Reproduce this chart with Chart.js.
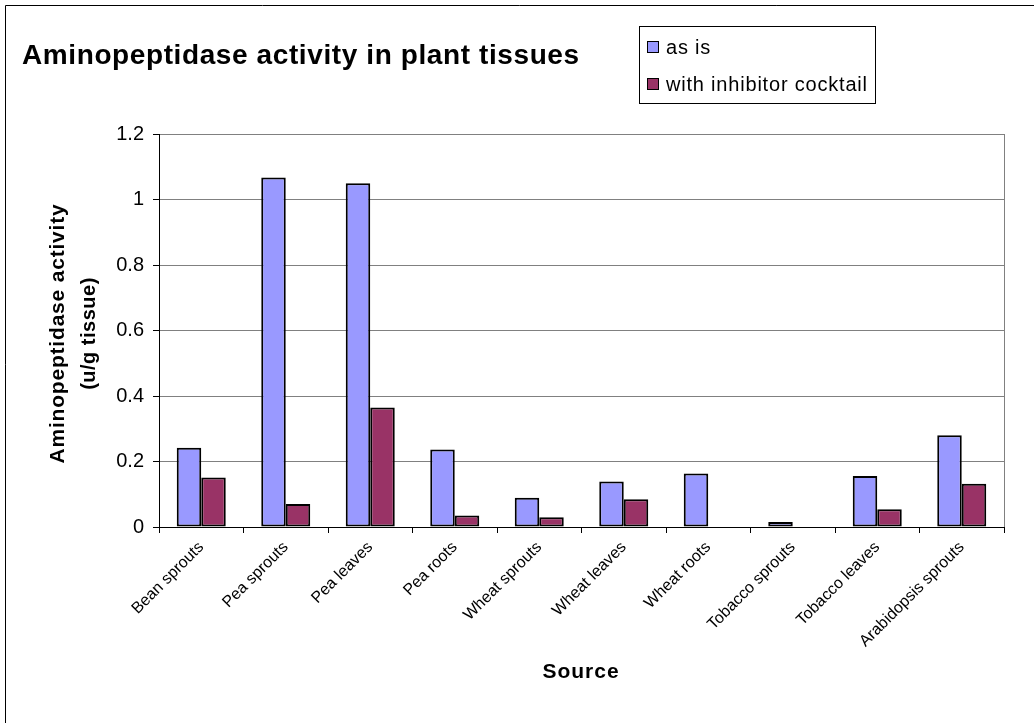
<!DOCTYPE html>
<html>
<head>
<meta charset="utf-8">
<title>Aminopeptidase activity in plant tissues</title>
<script src="https://cdn.jsdelivr.net/npm/chart.js@4"></script>
<style>
    html, body { margin: 0; padding: 0; background: #ffffff; }
    canvas { display: block; }
</style>
</head>
<body>
<canvas id="apChart" width="1034" height="723"></canvas>
<script>
// Dữ liệu biểu đồ
const sources = ['Bean sprouts', 'Pea sprouts', 'Pea leaves', 'Pea roots', 'Wheat sprouts',
    'Wheat leaves', 'Wheat roots', 'Tobacco sprouts', 'Tobacco leaves', 'Arabidopsis sprouts'];
const asIs = [0.242, 1.067, 1.050, 0.237, 0.089, 0.139, 0.163, 0.015, 0.156, 0.280];
const withInhibitor = [0.151, 0.070, 0.365, 0.035, 0.030, 0.085, 0, 0, 0.054, 0.132];
const yTicks = [0, 0.2, 0.4, 0.6, 0.8, 1, 1.2];

const FONT = '"Liberation Sans", Arial, sans-serif';

// Vẽ tiêu đề, chú thích, tiêu đề trục và khung
const chartDecor = {
    id: 'chartDecor',
    afterDraw(chart) {
        const ctx = chart.ctx;
        const area = chart.chartArea;
        ctx.save();

        // khung ngoài (chỉ thấy cạnh trên và trái)
        ctx.strokeStyle = '#000000';
        ctx.lineWidth = 1;
        ctx.beginPath();
        ctx.moveTo(5.5, chart.height);
        ctx.lineTo(5.5, 5.5);
        ctx.lineTo(chart.width, 5.5);
        ctx.stroke();

        // cạnh phải vùng vẽ
        const rx = Math.round(area.right) + 0.5;
        ctx.strokeStyle = '#808080';
        ctx.beginPath();
        ctx.moveTo(rx, area.top);
        ctx.lineTo(rx, area.bottom);
        ctx.stroke();

        // tiêu đề
        ctx.fillStyle = '#000000';
        ctx.textAlign = 'left';
        ctx.textBaseline = 'middle';
        ctx.font = 'bold 28px ' + FONT;
        ctx.letterSpacing = '0.6px';
        ctx.fillText('Aminopeptidase activity in plant tissues', 22, 56);

        // tiêu đề trục x
        ctx.textAlign = 'center';
        ctx.font = 'bold 21px ' + FONT;
        ctx.letterSpacing = '1px';
        ctx.fillText('Source', 581, 672);

        // tiêu đề trục y (2 dòng, xoay dọc)
        ctx.save();
        ctx.translate(58, (area.top + area.bottom) / 2 + 3);
        ctx.rotate(-Math.PI / 2);
        ctx.font = 'bold 21px ' + FONT;
        ctx.letterSpacing = '0.8px';
        ctx.fillText('Aminopeptidase activity', 0, 0);
        ctx.font = 'bold 20px ' + FONT;
        ctx.letterSpacing = '0.5px';
        ctx.fillText('(u/g tissue)', 0, 31);
        ctx.restore();

        // chú thích
        ctx.strokeStyle = '#000000';
        ctx.strokeRect(639.5, 26.5, 236, 77);
        ctx.font = '20px ' + FONT;
        ctx.letterSpacing = '0.8px';
        ctx.textAlign = 'left';
        const rowY = [47, 84];
        chart.data.datasets.forEach((ds, i) => {
            ctx.fillStyle = ds.backgroundColor;
            ctx.fillRect(647, rowY[i] - 6, 12, 12);
            ctx.strokeStyle = '#000000';
            ctx.strokeRect(647.5, rowY[i] - 5.5, 11, 11);
            ctx.fillStyle = '#000000';
            ctx.fillText(ds.label, 666, rowY[i] + 1);
        });

        ctx.restore();
    }
};

const ctx = document.getElementById('apChart').getContext('2d');
const apChart = new Chart(ctx, {
    type: 'bar',
    data: {
        labels: sources,
        datasets: [{
            label: 'as is',
            data: asIs,
            backgroundColor: '#9999FF',
            borderColor: '#000000',
            borderWidth: 2
        }, {
            label: 'with inhibitor cocktail',
            data: withInhibitor,
            backgroundColor: '#993366',
            borderColor: '#000000',
            borderWidth: 2
        }]
    },
    options: {
        responsive: false,
        animation: false,
        devicePixelRatio: 1,
        layout: {
            padding: { top: 134, right: 30, left: 0, bottom: 0 }
        },
        datasets: {
            bar: {
                categoryPercentage: 0.58,
                barPercentage: 1.0,
                borderSkipped: false
            }
        },
        plugins: {
            legend: { display: false },
            title: { display: false },
            tooltip: { enabled: false }
        },
        scales: {
            x: {
                afterFit: function (scale) {
                    scale.height = 196;
                },
                grid: {
                    offset: true,
                    drawOnChartArea: false,
                    color: '#000000',
                    tickColor: '#000000',
                    tickLength: 6
                },
                border: { color: '#000000', width: 1 },
                ticks: {
                    minRotation: 45,
                    maxRotation: 45,
                    autoSkip: false,
                    padding: 5,
                    color: '#000000',
                    font: { family: FONT, size: 16 }
                }
            },
            y: {
                min: 0,
                max: 1.2,
                afterFit: function (scale) {
                    scale.width = 159;
                },
                afterBuildTicks: function (scale) {
                    scale.ticks = yTicks.map(v => ({ value: v }));
                },
                grid: {
                    color: '#808080',
                    tickColor: '#000000',
                    tickLength: 6
                },
                border: { color: '#000000', width: 1 },
                ticks: {
                    padding: 9,
                    color: '#000000',
                    font: { family: FONT, size: 20 },
                    callback: function (value) {
                        return String(+value.toFixed(1));
                    }
                }
            }
        }
    },
    plugins: [chartDecor]
});
</script>
</body>
</html>
